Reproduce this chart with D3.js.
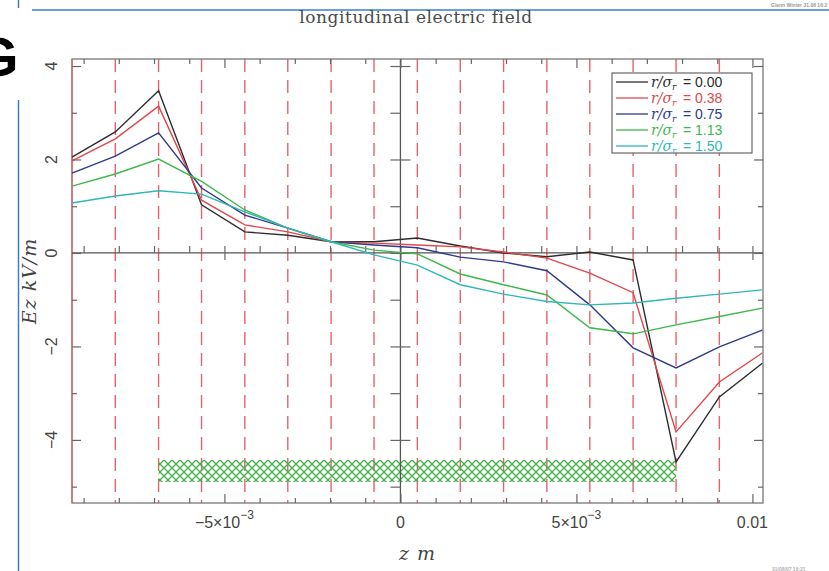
<!DOCTYPE html>
<html>
<head>
<meta charset="utf-8">
<script src="https://cdn.jsdelivr.net/npm/d3@7"></script>
<style>
  body { margin: 0; background: #fff; }
  svg { display: block; }
</style>
</head>
<body>
<div id="chart"></div>
<script>
// mesh nodes along z (m); field values sampled there
const zNodes = [-9.33e-3, -8.10e-3, -6.87e-3, -5.65e-3, -4.42e-3, -3.20e-3, -1.97e-3, -0.75e-3,
  0.48e-3, 1.70e-3, 2.93e-3, 4.16e-3, 5.38e-3, 6.61e-3, 7.83e-3, 9.06e-3, 10.28e-3];

const ezR000 = [2.05, 2.59, 3.47, 1.03, 0.45, 0.38, 0.24, 0.24, 0.32, 0.15, 0.00, -0.08, 0.02, -0.15, -4.47, -3.08, -2.36];
const ezR038 = [1.97, 2.44, 3.14, 1.13, 0.60, 0.45, 0.24, 0.21, 0.17, 0.13, 0.02, -0.11, -0.43, -0.85, -3.83, -2.76, -2.14];
const ezR075 = [1.71, 2.07, 2.57, 1.39, 0.81, 0.53, 0.24, 0.17, 0.11, -0.09, -0.19, -0.38, -1.11, -2.03, -2.46, -2.01, -1.65];
const ezR113 = [1.43, 1.69, 2.01, 1.53, 0.92, 0.53, 0.24, 0.06, -0.02, -0.45, -0.68, -0.90, -1.60, -1.73, -1.54, -1.36, -1.18];
const ezR150 = [1.07, 1.22, 1.33, 1.26, 0.88, 0.53, 0.24, -0.04, -0.26, -0.68, -0.88, -1.04, -1.11, -1.07, -0.97, -0.88, -0.79];

const radii = ['0.00', '0.38', '0.75', '1.13', '1.50'];
const seriesValues = [ezR000, ezR038, ezR075, ezR113, ezR150];
const colors = ['#2d2d2d', '#e0474c', '#2e3a8c', '#3db84a', '#2fb8b8'];

// hatched bunch region
const bunchZ = [-6.87e-3, 7.83e-3];
const bunchEz = [-4.43, -4.90];

const xMajor = [-5e-3, 0, 5e-3, 0.01];
const xMinor = [-9e-3, -8e-3, -7e-3, -6e-3, -4e-3, -3e-3, -2e-3, -1e-3, 1e-3, 2e-3, 3e-3, 4e-3, 6e-3, 7e-3, 8e-3, 9e-3];
const yMajor = [-4, -2, 0, 2, 4];
const yMinor = [-5, -3, -1, 1, 3];

const W = 829, H = 571;
const plot = { left: 72, right: 763, top: 59, bottom: 503 };

const svg = d3.select('#chart').append('svg')
  .attr('width', W)
  .attr('height', H);

const x = d3.scaleLinear().domain([-9.33e-3, 10.30e-3]).range([plot.left, plot.right]);
const y = d3.scaleLinear().domain([-5.35, 4.15]).range([plot.bottom, plot.top]);

const defs = svg.append('defs');
const hatch = defs.append('pattern')
  .attr('id', 'hatch')
  .attr('patternUnits', 'userSpaceOnUse')
  .attr('width', 8)
  .attr('height', 8);
hatch.append('path')
  .attr('d', 'M-1,-1L9,9M9,-1L-1,9M-5,3L3,11M5,-3L11,3M3,-5L-5,3M11,5L5,11')
  .attr('stroke', '#3cb043')
  .attr('stroke-width', 1.3)
  .attr('fill', 'none');

// page decorations
svg.append('line')
  .attr('x1', 32).attr('x2', W).attr('y1', 10).attr('y2', 10)
  .attr('stroke', '#3b7fc6').attr('stroke-width', 1.5);
svg.append('line')
  .attr('x1', 18.5).attr('x2', 18.5).attr('y1', 0).attr('y2', 8)
  .attr('stroke', '#3b7fc6').attr('stroke-width', 1.5);
svg.append('line')
  .attr('x1', 18.5).attr('x2', 18.5).attr('y1', 100).attr('y2', H)
  .attr('stroke', '#3b7fc6').attr('stroke-width', 1.5);
svg.append('text')
  .attr('x', -25).attr('y', 76)
  .style('font', 'bold 56px "Liberation Sans", Arial, sans-serif')
  .attr('fill', '#000')
  .text('G');
svg.append('text')
  .attr('x', 771).attr('y', 7)
  .style('font', 'bold 5px "Liberation Sans", sans-serif')
  .attr('fill', '#9a9a9a')
  .text('Glenn Winter 31.08 16:2');
svg.append('text')
  .attr('x', 772).attr('y', 571)
  .style('font', 'bold 5px "Liberation Sans", sans-serif')
  .attr('fill', '#b0b0b0')
  .text('31/08/07 16:21');

svg.append('text')
  .attr('x', 416).attr('y', 23)
  .attr('text-anchor', 'middle')
  .style('font', '17px "DejaVu Serif", serif')
  .style('letter-spacing', '0.6px')
  .attr('fill', '#4a4a4a')
  .text('longitudinal electric field');

const g = svg.append('g');

// dashed mesh lines
g.append('g')
  .selectAll('line')
  .data(zNodes.slice(1, -1))
  .join('line')
  .attr('x1', d => x(d)).attr('x2', d => x(d))
  .attr('y1', plot.top).attr('y2', plot.bottom)
  .attr('stroke', '#e3646c')
  .attr('stroke-width', 1.4)
  .attr('stroke-dasharray', '13,8');

// bunch
g.append('rect')
  .attr('x', x(bunchZ[0]))
  .attr('y', y(bunchEz[0]))
  .attr('width', x(bunchZ[1]) - x(bunchZ[0]))
  .attr('height', y(bunchEz[1]) - y(bunchEz[0]))
  .attr('fill', 'url(#hatch)');

// frame
const axisColor = '#777';
g.append('rect')
  .attr('x', plot.left).attr('y', plot.top)
  .attr('width', plot.right - plot.left)
  .attr('height', plot.bottom - plot.top)
  .attr('fill', 'none')
  .attr('stroke', axisColor)
  .attr('stroke-width', 1.3);
g.append('line')
  .attr('x1', plot.left).attr('x2', plot.left)
  .attr('y1', plot.top).attr('y2', plot.bottom)
  .attr('stroke', '#e3646c').attr('stroke-width', 1.3);

// zero lines
g.append('line')
  .attr('x1', plot.left).attr('x2', plot.right)
  .attr('y1', y(0)).attr('y2', y(0))
  .attr('stroke', '#555').attr('stroke-width', 1.3);
g.append('line')
  .attr('x1', x(0)).attr('x2', x(0))
  .attr('y1', plot.top).attr('y2', plot.bottom)
  .attr('stroke', '#555').attr('stroke-width', 1.3);

// ticks via d3 axes, pointing inward
const styleAxis = sel => {
  sel.select('.domain').remove();
  sel.selectAll('line').attr('stroke', '#666').attr('stroke-width', 1.2);
};
const tickSets = [
  [d3.axisBottom(x).tickValues(xMajor).tickSize(-9), `translate(0,${plot.bottom})`],
  [d3.axisBottom(x).tickValues(xMinor).tickSize(-5), `translate(0,${plot.bottom})`],
  [d3.axisTop(x).tickValues(xMajor).tickSize(-9), `translate(0,${plot.top})`],
  [d3.axisTop(x).tickValues(xMinor).tickSize(-5), `translate(0,${plot.top})`],
  [d3.axisLeft(y).tickValues(yMajor).tickSize(-9), `translate(${plot.left},0)`],
  [d3.axisLeft(y).tickValues(yMinor).tickSize(-5), `translate(${plot.left},0)`],
  [d3.axisRight(y).tickValues(yMajor).tickSize(-9), `translate(${plot.right},0)`],
  [d3.axisRight(y).tickValues(yMinor).tickSize(-5), `translate(${plot.right},0)`],
  [d3.axisBottom(x).tickValues(xMajor).tickSize(7), `translate(0,${y(0)})`],
  [d3.axisTop(x).tickValues(xMajor.concat(xMinor)).tickSize(7), `translate(0,${y(0)})`],
  [d3.axisRight(y).tickValues(yMajor).tickSize(10), `translate(${x(0)},0)`],
  [d3.axisLeft(y).tickValues(yMajor.concat(yMinor)).tickSize(10), `translate(${x(0)},0)`]
];
tickSets.forEach(([axis, tr]) => {
  g.append('g')
    .attr('transform', tr)
    .call(axis.tickFormat(''))
    .call(styleAxis);
});

// curves
const line = d3.line()
  .x((d, i) => x(zNodes[i]))
  .y(d => y(d));

g.append('g')
  .selectAll('path')
  .data(seriesValues)
  .join('path')
  .attr('d', d => line(d))
  .attr('fill', 'none')
  .attr('stroke', (d, i) => colors[i])
  .attr('stroke-width', 1.4)
  .attr('stroke-linejoin', 'miter');

// tick labels
const labelFont = '16px "Liberation Sans", Arial, sans-serif';
const xLabels = g.append('g')
  .selectAll('text')
  .data(xMajor)
  .join('text')
  .attr('x', d => x(d))
  .attr('y', 528)
  .attr('text-anchor', 'middle')
  .style('font', labelFont)
  .attr('fill', '#444');
xLabels.each(function (d) {
  const t = d3.select(this);
  if (Math.abs(d) === 5e-3) {
    t.append('tspan').text(d < 0 ? '\u22125\u00d710' : '5\u00d710');
    t.append('tspan').attr('dy', -9).style('font-size', '12px').text('\u22123');
  } else {
    t.text(d === 0 ? '0' : '0.01');
  }
});

g.append('g')
  .selectAll('text')
  .data(yMajor)
  .join('text')
  .attr('transform', d => `translate(57,${y(d)}) rotate(-90)`)
  .attr('text-anchor', 'middle')
  .style('font', labelFont)
  .attr('fill', '#444')
  .text(d => d < 0 ? '\u2212' + Math.abs(d) : d);

// axis titles
svg.append('text')
  .attr('transform', `translate(36,${(plot.top + plot.bottom) / 2}) rotate(-90)`)
  .attr('text-anchor', 'middle')
  .style('font', 'italic 19px "DejaVu Serif", serif')
  .style('letter-spacing', '1px')
  .attr('fill', '#444')
  .text('Ez  kV/m');
svg.append('text')
  .attr('x', (plot.left + plot.right) / 2)
  .attr('y', 560)
  .attr('text-anchor', 'middle')
  .style('font', 'italic 19px "DejaVu Serif", serif')
  .style('letter-spacing', '1px')
  .attr('fill', '#444')
  .text('z  m');

// legend
const legend = svg.append('g').attr('transform', 'translate(612,73)');
legend.append('rect')
  .attr('width', 140).attr('height', 80)
  .attr('fill', '#fff')
  .attr('stroke', '#666')
  .attr('stroke-width', 1.2);
const rows = legend.selectAll('g.row')
  .data(radii)
  .join('g')
  .attr('class', 'row')
  .attr('transform', (d, i) => `translate(0,${9 + i * 16})`);
rows.append('line')
  .attr('x1', 4).attr('x2', 36)
  .attr('stroke', (d, i) => colors[i])
  .attr('stroke-width', 1.3);
const rowText = rows.append('text')
  .attr('x', 39).attr('y', 5)
  .style('font', '14px "Liberation Sans", Arial, sans-serif')
  .attr('fill', (d, i) => colors[i]);
rowText.append('tspan').style('font', 'italic 14px "DejaVu Serif", serif').text('r/\u03c3');
rowText.append('tspan').attr('dy', 3).style('font', 'italic 9px "DejaVu Serif", serif').text('r');
rowText.append('tspan').attr('dy', -3).text(d => ' \u2009= ' + d);
</script>
</body>
</html>
